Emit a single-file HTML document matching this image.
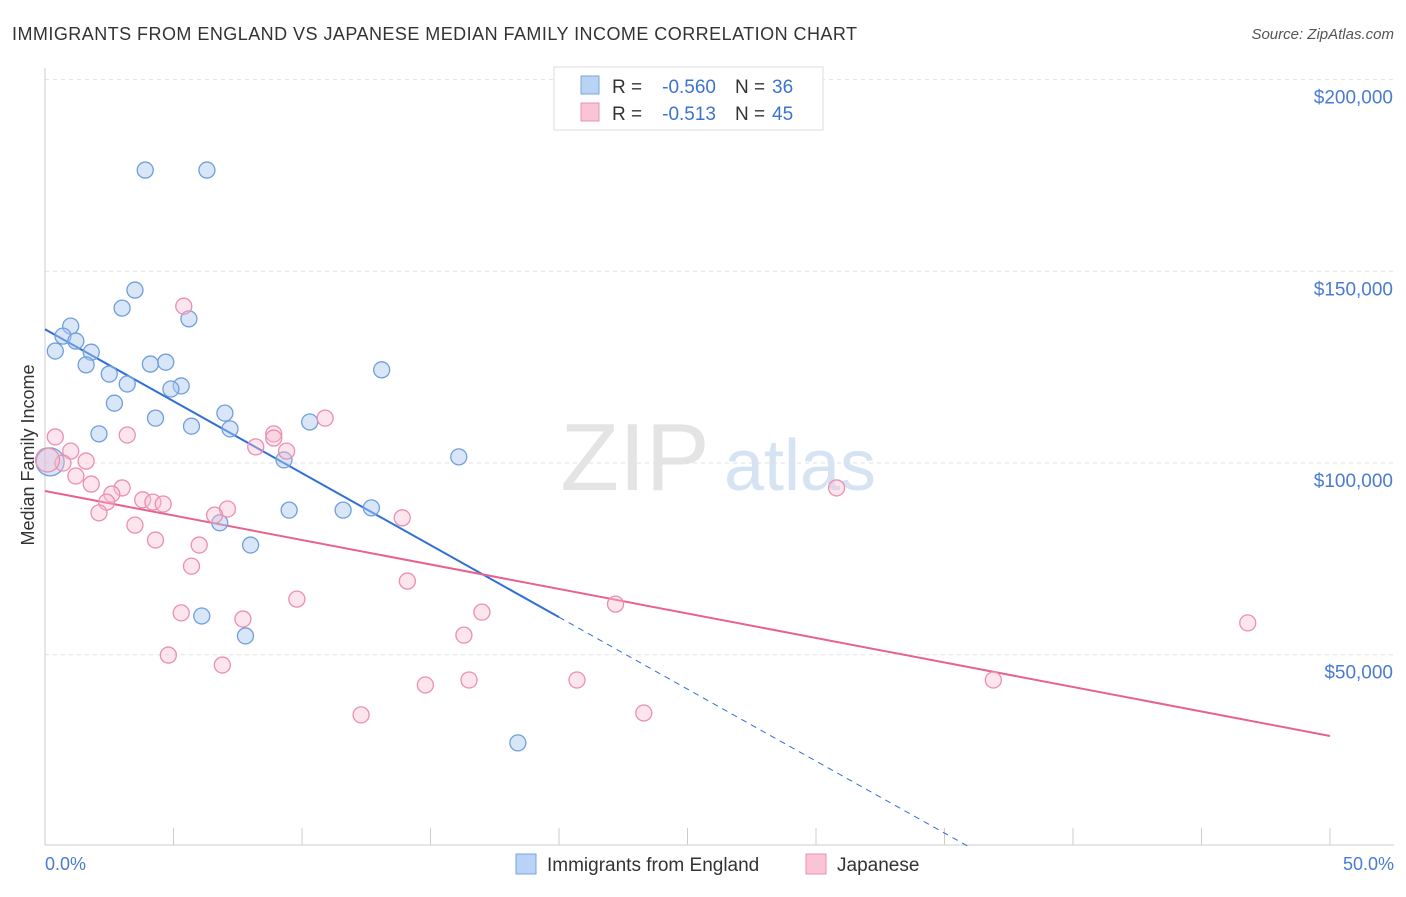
<!DOCTYPE html>
<html><head><meta charset="utf-8"><style>
body{margin:0;background:#fff;font-family:"Liberation Sans",sans-serif;}
svg text{font-family:"Liberation Sans",sans-serif;}
</style></head><body>
<svg id="chart" width="1406" height="892" xmlns="http://www.w3.org/2000/svg">
<text x="12" y="40" font-size="18" fill="#333" textLength="845" lengthAdjust="spacing">IMMIGRANTS FROM ENGLAND VS JAPANESE MEDIAN FAMILY INCOME CORRELATION CHART</text>
<text x="1394" y="39" font-size="15" fill="#555" font-style="italic" text-anchor="end">Source: ZipAtlas.com</text>
<text x="635" y="490" font-size="96" fill="#e4e4e4" font-family="Liberation Serif" text-anchor="middle">ZIP</text>
<text x="800" y="490" font-size="72" fill="#d5e3f3" text-anchor="middle">atlas</text>
<g id="grid"></g><g id="axes"></g><g id="lines"></g><g id="pts"></g>
<text transform="translate(34,455) rotate(-90)" font-size="18" fill="#333" text-anchor="middle">Median Family Income</text>
<text x="45" y="870" font-size="18" fill="#4a7bd0">0.0%</text>
<text x="1394" y="870" font-size="18" fill="#4a7bd0" text-anchor="end">50.0%</text>
<g>
<rect x="554" y="67" width="269" height="63" fill="#fff" stroke="#ddd"/>
<rect x="581" y="76" width="18" height="18" fill="#b8d3f3" stroke="#7aa6e0"/>
<rect x="581" y="103" width="18" height="18" fill="#f9c5d5" stroke="#e890ae"/>
<text x="612" y="93" font-size="19" fill="#333">R =</text>
<text x="716" y="93" font-size="19" fill="#3d73d0" text-anchor="end">-0.560</text>
<text x="735" y="93" font-size="19" fill="#333">N =</text>
<text x="772" y="93" font-size="19" fill="#3d73d0">36</text>
<text x="612" y="120" font-size="19" fill="#333">R =</text>
<text x="716" y="120" font-size="19" fill="#3d73d0" text-anchor="end">-0.513</text>
<text x="735" y="120" font-size="19" fill="#333">N =</text>
<text x="772" y="120" font-size="19" fill="#3d73d0">45</text>
</g>
<g>
<rect x="516" y="854" width="20" height="20" fill="#b8d3f3" stroke="#7aa6e0"/>
<text x="547" y="871" font-size="19" fill="#333">Immigrants from England</text>
<rect x="806" y="854" width="20" height="20" fill="#f9c5d5" stroke="#e890ae"/>
<text x="837" y="871" font-size="19" fill="#333">Japanese</text>
</g>
</svg>
<script>
const yTicks=[50000,100000,150000,200000];
const yTickLabels=["$50,000","$100,000","$150,000","$200,000"];
const blueX=[3.9,6.3,3.5,3.0,5.6,1.0,0.7,1.2,0.4,1.8,1.6,4.1,4.7,2.5,5.3,4.9,3.2,13.1,2.7,4.3,7.0,2.1,5.7,7.2,10.3,9.3,16.1,0.2,9.5,11.6,12.7,6.8,8.0,6.1,7.8,18.4];
const blueY=[176.4,176.4,145.1,140.4,137.6,135.7,133.1,131.8,129.2,128.9,125.6,125.8,126.3,123.2,120.1,119.3,120.6,124.3,115.6,111.7,113.0,107.6,109.6,108.9,110.7,100.8,101.6,100.3,87.7,87.7,88.3,84.4,78.6,60.1,54.9,27.0];
const pinkX=[5.4,10.9,0.4,3.2,8.9,8.9,8.2,9.4,1.0,1.6,0.7,1.2,1.8,3.0,2.6,2.4,3.8,4.2,4.6,7.1,6.6,2.1,13.9,30.8,3.5,4.3,6.0,5.7,14.1,9.8,22.2,5.3,17.0,7.7,16.3,46.8,4.8,6.9,14.8,16.5,20.7,36.9,12.3,23.3,0.1];
const pinkY=[140.9,111.7,106.8,107.3,107.6,106.5,104.2,103.1,103.1,100.5,100.0,96.6,94.5,93.5,91.9,89.8,90.4,89.8,89.3,88.0,86.4,87.0,85.7,93.5,83.8,79.9,78.6,73.1,69.2,64.5,63.2,60.9,61.1,59.3,55.1,58.3,49.9,47.3,42.1,43.4,43.4,43.4,34.3,34.8,100.8];
const blueTrend=[134.9,-3.755];
const pinkTrend=[92.7,-1.278];
const NS="http://www.w3.org/2000/svg";
const sx=p=>45+p*25.7;
const sy=v=>463-(v-100)*3.834;
function mk(tag,attrs,parent){const e=document.createElementNS(NS,tag);for(const k in attrs)e.setAttribute(k,attrs[k]);document.getElementById(parent).appendChild(e);return e;}
yTicks.forEach((t,i)=>{
 const y=sy(t/1000);
 const l=mk('line',{x1:45,x2:1394,y1:y,y2:y,stroke:'#e2e2e2','stroke-dasharray':'4,4'},'grid');
 
 
 const tx=mk('text',{x:1393,y:y+24,'font-size':19,fill:'#4a7bd0','text-anchor':'end'},'axes');
 tx.textContent=yTickLabels[i];
 
 
});
const ax=mk('line',{x1:45,x2:1394,y1:845,y2:845,stroke:'#ccc'},'axes');


const ay=mk('line',{x1:45,x2:45,y1:68,y2:845,stroke:'#ccc'},'axes');


for(let i=0;i<=10;i++){
 const t=mk('line',{x1:sx(i*5),x2:sx(i*5),y1:828,y2:845,stroke:'#ccc'},'axes');
 
 
}
const bEnd=-blueTrend[0]/blueTrend[1];
const b1=mk('line',{x1:sx(0),y1:sy(blueTrend[0]),x2:sx(20),y2:sy(blueTrend[0]+blueTrend[1]*20),stroke:'#2f6fd6','stroke-width':2},'lines');


const b2=mk('line',{x1:sx(20),y1:sy(blueTrend[0]+blueTrend[1]*20),x2:sx(bEnd),y2:sy(0),stroke:'#2f6fd6','stroke-width':1,'stroke-dasharray':'6,5'},'lines');


const p1=mk('line',{x1:sx(0),y1:sy(pinkTrend[0]),x2:sx(50),y2:sy(pinkTrend[0]+pinkTrend[1]*50),stroke:'#e8628e','stroke-width':2},'lines');


blueX.forEach((x,i)=>{
 const c=mk('circle',{cx:sx(x),cy:sy(blueY[i]),r:i==27?14:8,fill:'rgba(170,200,240,0.45)',stroke:'#6f9fdc','stroke-width':1.3},'pts');
 
 
});
pinkX.forEach((x,i)=>{
 const c=mk('circle',{cx:sx(x),cy:sy(pinkY[i]),r:i==44?12:8,fill:'rgba(248,190,210,0.4)',stroke:'#eb8fb0','stroke-width':1.3},'pts');
 
 
});
</script>
</body></html>
